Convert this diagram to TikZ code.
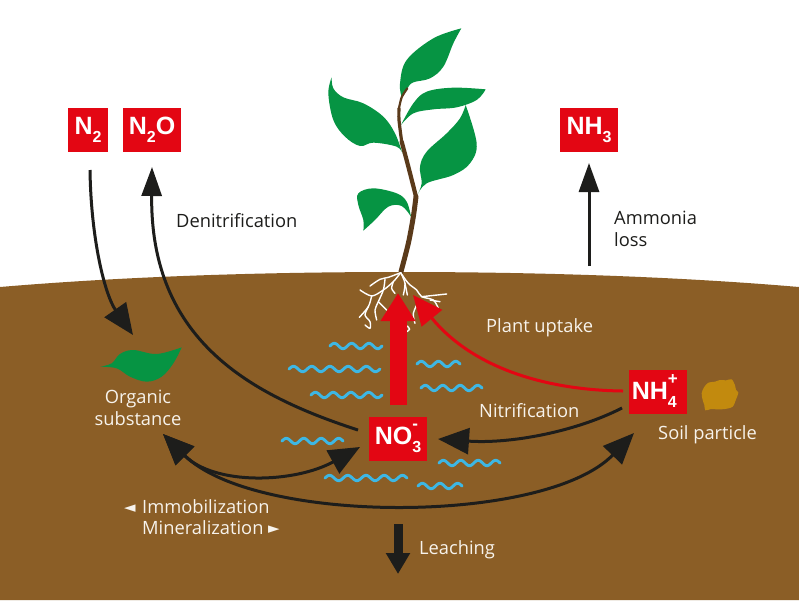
\documentclass[tikz,border=0pt]{standalone}
\usepackage{fontspec}
\setmainfont{Open Sans}
\newfontfamily\symfont{DejaVu Sans}
\newfontfamily\chemfont{Liberation Sans}
\usetikzlibrary{arrows.meta}
\definecolor{soil}{HTML}{8B5E26}
\definecolor{leafgreen}{HTML}{069443}
\definecolor{stemc}{HTML}{5A3A1A}
\definecolor{boxred}{HTML}{E30613}
\definecolor{inkc}{HTML}{1D1D1B}
\definecolor{waterc}{HTML}{3DB7E4}
\definecolor{grain}{HTML}{C28A0E}
\definecolor{paper}{HTML}{F7F3EC}
\tikzset{
  chem/.style={fill=boxred,text=white,inner sep=0pt,minimum height=44pt,font=\chemfont\fontsize{25}{25}\selectfont\bfseries,align=center},
  lab/.style={anchor=base west,inner sep=0pt,font=\fontsize{18.3}{20}\selectfont},
  labc/.style={anchor=base,inner sep=0pt,font=\fontsize{18.3}{20}\selectfont},
  onsoil/.style={text=paper},
  arr/.style={draw=inkc,line width=3pt,-{Triangle[length=31pt,width=26pt]}},
  arrboth/.style={draw=inkc,line width=3pt,{Triangle[length=31pt,width=26pt]}-{Triangle[length=31pt,width=26pt]}},
  arrs/.style={draw=inkc,line width=3pt,-{Triangle[length=29pt,width=20pt]}},
  arrr/.style={draw=boxred,line width=3pt,-{Triangle[length=30pt,width=26pt]}},
  wave/.style={draw=waterc,line width=2.9pt,line cap=round},
  rootl/.style={draw=white,line width=1.4pt,line cap=round,line join=round},
}
\newcommand{\wavy}[4]{\draw[wave] plot[domain=0:#4,samples=70,smooth] ({#1+(#3-#1)*\x/#4},{#2-2.7*sin(360*\x)});}
\newcommand{\sbs}[1]{\raisebox{-.3em}{\fontsize{16}{16}\selectfont #1}}
\newcommand{\both}[2]{\rlap{\raisebox{.6em}{\fontsize{17}{17}\selectfont #1}}\raisebox{-.32em}{\fontsize{16}{16}\selectfont #2}}
\newcommand{\leafshape}[2]{\fill[leafgreen] plot[smooth,tension=.6] coordinates {#1} -- plot[smooth,tension=.6] coordinates {#2} -- cycle;}
\begin{document}
\begin{tikzpicture}[x=1pt,y=-1pt]
\useasboundingbox (0,0) rectangle (799,600);
\fill[white] (0,0) rectangle (799,600);
% ground
\fill[soil] (0,287) .. controls (130,276) and (270,272) .. (400,272) .. controls (530,272) and (670,276) .. (799,287) -- (799,600) -- (0,600) -- cycle;
% plant
\begin{scope}[shift={(300,20)},scale=1/3]
\leafshape{(305,232)(300,190)(320,120)(400,55)(484,25)}{(484,25)(460,70)(430,140)(390,175)(340,187)(322,205)(305,232)}
\leafshape{(308,402)(285,340)(250,290)(190,250)(130,232)(100,205)(95,172)}{(95,172)(85,220)(100,300)(135,350)(180,378)(220,368)(290,380)(308,402)}
\leafshape{(303,315)(340,250)(380,215)(460,203)(557,208)}{(557,208)(530,240)(470,262)(400,268)(340,280)(303,315)}
\leafshape{(352,525)(365,490)(360,440)(380,395)(440,340)(480,295)(497,255)}{(497,255)(530,370)(510,430)(460,465)(380,490)(352,525)}
\leafshape{(333,590)(320,545)(290,520)(220,505)(175,520)(175,555)(190,600)(190,632)}{(190,632)(225,600)(265,560)(305,558)(333,590)}
\draw[stemc,line width=5pt,line cap=round] plot[smooth] coordinates {(303,755)(325,670)(340,590)(348,530)};
\draw[stemc,line width=4.2pt,line cap=round] plot[smooth] coordinates {(348,530)(325,440)(305,365)};
\draw[stemc,line width=3.2pt,line cap=round] plot[smooth] coordinates {(305,365)(297,300)(297,265)};
\draw[stemc,line width=2.2pt,line cap=round] plot[smooth] coordinates {(297,265)(305,232)(322,205)};
\end{scope}
% roots
\begin{scope}[shift={(330,260)},scale=1/3]
\draw[rootl] plot[smooth] coordinates {(212,38)(175,52)(150,58)(120,78)};
\draw[rootl] plot[smooth] coordinates {(212,38)(190,65)(160,90)(125,108)(90,90)};
\draw[rootl] plot[smooth] coordinates {(125,108)(115,140)(88,172)};
\draw[rootl] plot[smooth] coordinates {(115,140)(105,165)(120,185)(120,205)(105,195)};
\draw[rootl] plot[smooth] coordinates {(165,58)(160,90)(145,125)(135,150)(140,180)};
\draw[rootl] (145,125) -- (170,150);
\draw[rootl] plot[smooth] coordinates {(190,65)(185,85)(195,100)};
\draw[rootl] plot[smooth] coordinates {(212,38)(225,70)(220,105)};
\draw[rootl] (225,70) -- (232,105);
\draw[rootl] plot[smooth] coordinates {(212,38)(235,70)(260,90)(275,110)(310,120)(325,145)};
\draw[rootl] (275,110) -- (350,102);
\draw[rootl] (300,120) -- (330,125);
\draw[rootl] plot[smooth] coordinates {(265,125)(250,160)(255,190)};
\draw[rootl] plot[smooth] coordinates {(232,198)(239,208)(230,215)};
\end{scope}
% water
\wavy{330}{346}{382}{3}
\wavy{289}{369}{380}{5}
\wavy{311}{395}{382}{4}
\wavy{417}{364}{460}{2.5}
\wavy{421}{388}{482}{3.5}
\wavy{282}{441}{343}{3.5}
\wavy{439}{463}{500}{3.5}
\wavy{325}{478}{407}{4.5}
\wavy{418}{486}{462}{2.5}
% organic leaf
\begin{scope}[shift={(90,340)},scale=1/3]
\leafshape{(30,80)(65,70)(90,42)(130,30)(200,42)(275,22)}{(275,22)(250,70)(215,110)(170,125)(120,110)(80,85)(30,80)}
\end{scope}
% soil particle
\begin{scope}[shift={(600,350)},scale=1/3]
\fill[grain] plot[smooth cycle,tension=.5] coordinates {(305,130)(312,112)(325,98)(345,95)(360,90)(378,91)(395,88)(405,106)(408,120)(415,128)(408,148)(398,170)(375,177)(350,178)(333,177)(316,181)(313,165)(308,150)};
\end{scope}
% boxes
\node[chem,minimum width=40pt] (n2) at (88,130) {N\sbs{2}};
\node[chem,minimum width=58pt] (n2o) at (152,130) {N\sbs{2}O};
\node[chem,minimum width=58pt] (nh3) at (589,130) {NH\sbs{3}};
\node[chem,minimum width=58pt] (no3) at (398,438.5) {NO\both{-}{3}};
\node[chem,minimum width=58pt] (nh4) at (658,391.5) {NH\both{+}{4}\hspace{.3em}};
% free ends
\coordinate (n2s) at (90,170);
\coordinate (orgt) at (133,335);
\coordinate (orgin) at (163,434);
\coordinate (n2ot) at (152,167);
\coordinate (no3w) at (358,430);
\coordinate (no3t) at (360,447);
\coordinate (no3e) at (438,439);
\coordinate (nh4a) at (622,408);
\coordinate (nh4b) at (634,433);
\coordinate (nh4r) at (623,391);
\coordinate (rt1) at (413,295);
\coordinate (bigb) at (398,405);
\coordinate (bigt) at (398,293);
\coordinate (nh3s) at (589,266);
\coordinate (nh3t) at (589,163);
\coordinate (lea) at (398,524);
\coordinate (leb) at (398,574);
% connectors
\draw[arr] (n2s) .. controls (91,240) and (105,295) .. (orgt);
\draw[arrs] (no3w) .. controls (250,395) and (150,340) .. (n2ot);
\draw[arrs] (nh3s) -- (nh3t);
\draw[arr] (nh4a) .. controls (575,432) and (510,444) .. (no3e);
\draw[arrr] (nh4r) .. controls (540,390) and (470,365) .. (rt1);
\draw[boxred,line width=17pt,-{Triangle[length=28pt,width=33pt]}] (bigb) -- (bigt);
\draw[inkc,line width=9pt,-{Triangle[length=21pt,width=23pt]}] (lea) -- (leb);
\draw[arrboth] (orgin) .. controls (215,486) and (295,483) .. (no3t);
\draw[arrboth] (orgin) .. controls (255,525) and (545,525) .. (nh4b);
% labels
\node[lab,text=inkc] (denit) at (176,227) {Denitrification};
\node[lab,text=inkc] (amm) at (614,224) {Ammonia};
\node[lab,text=inkc] (loss) at (614,246) {loss};
\node[lab,onsoil] (upt) at (486,332) {Plant uptake};
\node[labc,onsoil] (org) at (138,403) {Organic};
\node[labc,onsoil] (sub) at (138,425) {substance};
\node[lab,onsoil] (nitr) at (479,417) {Nitrification};
\node[lab,onsoil] (soilp) at (658,439) {Soil particle};
\node[lab,onsoil] (leach) at (419,554) {Leaching};
\node[lab,onsoil] (imm) at (142,513) {Immobilization};
\node[lab,onsoil] (minr) at (142,534) {Mineralization};
\node[lab,onsoil,font=\symfont\fontsize{15}{15}\selectfont] (tl) at (124,512) {◄};
\node[lab,onsoil,font=\symfont\fontsize{15}{15}\selectfont] (tr) at (268,533) {►};
\end{tikzpicture}
\end{document}
